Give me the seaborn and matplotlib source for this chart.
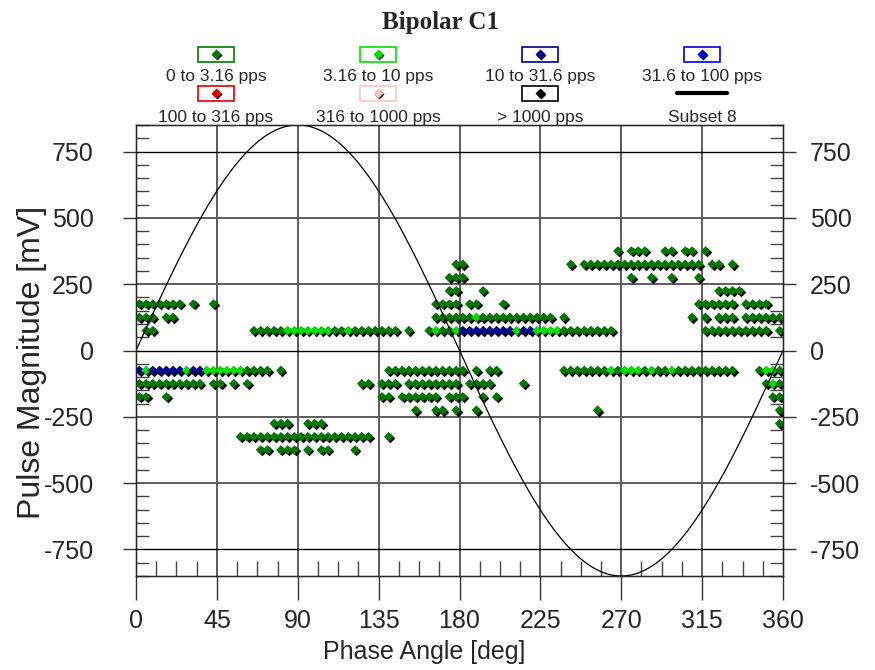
import numpy as np
import pandas as pd
import matplotlib
matplotlib.use("Agg")
import matplotlib.pyplot as plt
import matplotlib.transforms as mtransforms
from matplotlib.ticker import MultipleLocator
from matplotlib.patches import Rectangle
import seaborn as sns

# Pulse-rate classes shown in the legend
rate_labels = ["0 to 3.16 pps", "3.16 to 10 pps", "10 to 31.6 pps", "31.6 to 100 pps",
               "100 to 316 pps", "316 to 1000 pps", "> 1000 pps"]
rate_codes = ["g", "l", "n", "b", "r", "p", "k"]
rate_colors = ["#007800", "#00e000", "#00008c", "#0000e0", "#e00000", "#ffc4c4", "#000000"]
subset_label = "Subset 8"

# Phase windows: 96 bins of 3.75 deg, one character per bin (8 groups of 45 deg)
n_bins = 96
magnitudes = [375, 325, 275, 225, 175, 125, 75, -75, -125, -175, -225, -275, -325, -375]
patterns = [
    "............ ............ ............ ............ ............ ...........g .ggg..gg.gg. g...........",
    "............ ............ ............ ...........g g........... ....g.gggggg gggggggggggg .gg.g.......",
    "............ ............ ............ ..........gg g........... ............ .g..g..g...g ............",
    "............ ............ ............ ..........gg ...g........ ............ ............ ..gggg......",
    "ggggggg.g..g ............ ............ ........gggg .gg...g..... ............ ...........g ggggg.gggg..",
    "ggg.gg...... ............ ............ ........gggg gglggggggggg gg.g........ ..........g. g.ggg.gggggg",
    ".gg......... .....gggggll lllllgglgggg ggg.g..glggl nnnnnnnnlnnl lllgggggggg. ............ gggggggggg.g",
    "nlnnnnnlnnll llllgggg.g.. ............ .ggggggggggg g.g.gg...... ...ggggggglg lllglgglgggg ggggg...gllg",
    "gggggggggg.g g.g.g....... .........gg. ggg.gggggggg .gggg....g.. ............ ............ .........glg",
    "gg..g....... ............ ............ gg.gggggg.gg g..g.g...... ............ ............ ..........gg",
    "............ ............ ............ .....g..gg.g ..g......... ........g... ............ ...........g",
    "............ ........ggg. .ggg........ ............ ............ ............ ............ ...........g",
    "............ ...ggggggggg ggggggggggg. .g.......... ............ ............ ............ ............",
    "............ ......gg.ggg .g.gg...g... ............ ............ ............ ............ ............",
]

sine_amplitude = 850
x_ticks = [0, 45, 90, 135, 180, 225, 270, 315, 360]
y_ticks = [-750, -500, -250, 0, 250, 500, 750]

sns.set_style("ticks")
plt.rcParams["font.family"] = ["Liberation Sans", "DejaVu Sans"]
plt.rcParams["axes.unicode_minus"] = False

bin_width = 360 / n_bins
records = []
for mag, pat in zip(magnitudes, patterns):
    for k, ch in enumerate(pat.replace(" ", "")):
        if ch != ".":
            records.append((k * bin_width + bin_width / 2, mag, rate_labels[rate_codes.index(ch)]))
df = pd.DataFrame(records, columns=["phase", "magnitude", "rate"])
palette = dict(zip(rate_labels, rate_colors))

W, H = 875, 670
fig = plt.figure(figsize=(W / 100, H / 100), dpi=100)
ax = fig.add_axes([136 / W, 94 / H, 647 / W, 451 / H])

# grid lines
for x in x_ticks[1:-1]:
    ax.axvline(x, color="#5c5c5c", lw=1.4, zorder=1)
for y in y_ticks:
    if y in (0, 750, -750):
        ax.axhline(y, color="black", lw=1.0, zorder=1)
    else:
        ax.axhline(y, color="#5c5c5c", lw=1.4, zorder=1)

# points with a small drop shadow
shadow = mtransforms.offset_copy(ax.transData, fig=fig, x=1.4, y=-1.4, units="dots")
sns.scatterplot(data=df, x="phase", y="magnitude", color="black", marker="D", s=24,
                linewidth=0, transform=shadow, ax=ax, legend=False, zorder=2)
sns.scatterplot(data=df, x="phase", y="magnitude", hue="rate", hue_order=rate_labels,
                palette=palette, marker="D", s=24, linewidth=0, ax=ax, legend=False, zorder=3)

# reference sine
phase_curve = np.linspace(0, 360, 721)
sns.lineplot(x=phase_curve, y=sine_amplitude * np.sin(np.radians(phase_curve)),
             color="black", lw=0.9, ax=ax, zorder=4)

ax.set_xlim(0, 360)
ax.set_ylim(-850, 850)
ax.set_xticks(x_ticks)
ax.set_yticks(y_ticks)
ax.xaxis.set_minor_locator(MultipleLocator(11.25))
ax.yaxis.set_minor_locator(MultipleLocator(50))
ax.tick_params(axis="x", which="major", direction="out", length=17, width=1.0,
               color="#333333", labelsize=18, pad=7, bottom=True, top=False)
ax.tick_params(axis="x", which="minor", direction="in", length=11, width=1.0,
               color="#444444", bottom=True, top=False)
ax.tick_params(axis="y", which="major", direction="out", length=9.5, width=1.0,
               color="#333333", labelsize=18, pad=21, left=True, right=False)
ax.tick_params(axis="y", which="minor", direction="in", length=9.5, width=1.0,
               color="#444444", left=True, right=False)
for sp in ax.spines.values():
    sp.set_color("black")
    sp.set_linewidth(1.0)

ax.set_xlabel("Phase Angle [deg]", fontsize=18)
ax.xaxis.set_label_coords(0.446, -0.142)
ax.set_ylabel("Pulse Magnitude [mV]", fontsize=23)
ax.yaxis.set_label_coords(-0.1376, 0.4745)

ax2 = ax.twinx()
ax2.set_ylim(-850, 850)
ax2.set_yticks(y_ticks)
ax2.yaxis.set_minor_locator(MultipleLocator(50))
ax2.tick_params(axis="y", which="major", direction="out", length=9.5, width=1.0,
                color="#333333", labelsize=18, pad=10, right=True, left=False, labelright=True)
ax2.tick_params(axis="y", which="minor", direction="in", length=9.5, width=1.0,
                color="#444444", right=True, left=False)

fig.text(441 / W, 1 - 22 / H, "Bipolar C1", ha="center", va="center",
         family=["Liberation Serif", "DejaVu Serif"], weight="bold", fontsize=18)

# legend grid drawn in pixel coordinates
lax = fig.add_axes([0, 0, 1, 1])
lax.set_xlim(0, W)
lax.set_ylim(H, 0)
lax.axis("off")
col_x = [216, 378, 540, 702]
box_y = [54, 93]
text_y = [77, 117.5]
entries = rate_labels + [subset_label]
for i, label in enumerate(entries):
    r, c = divmod(i, 4)
    cx, by = col_x[c], box_y[r]
    if i < len(rate_labels):
        col = rate_colors[i]
        lax.add_patch(Rectangle((cx - 18, by - 7.5), 36, 15, fill=False, ec=col, lw=1.2))
        lax.scatter([cx + 1.0], [by + 1.0], marker="D", s=26, c="black", lw=0)
        lax.scatter([cx], [by], marker="D", s=26, c=col, lw=0)
    else:
        lax.plot([cx - 25, cx + 25], [by, by], color="black", lw=3)
    lax.text(cx, text_y[r], label, ha="center", va="center", fontsize=12.5)

fig.savefig("out.png", dpi=100)
